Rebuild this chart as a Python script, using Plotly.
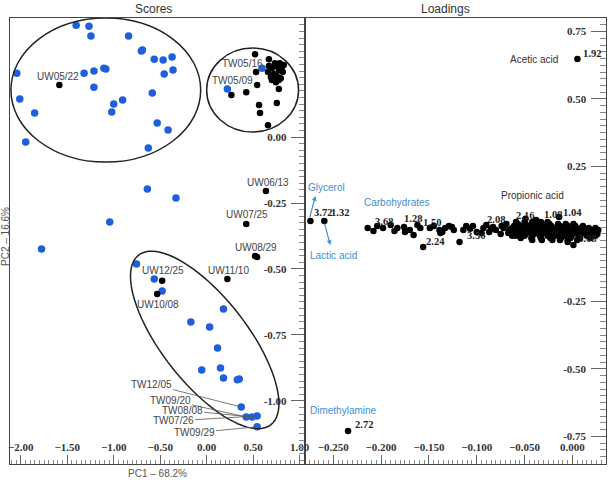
import numpy as np
import plotly.graph_objects as go

# ---------------- Scores data ----------------
blue_x = [-1.404, -1.266, -1.245, -0.840, -0.702, -0.691, -0.564, -0.468, -0.372, -0.362,
          -0.457, -2.043, -1.319, -1.213, -1.106, -1.085, -1.213, -0.585, -2.011, -0.904,
          -1.000, -1.021, -1.851, -0.532, -0.415, -1.947, -0.628, 0.223, 0.596, -0.638,
          -0.330, -1.043, -1.777, -0.755, -0.564, -0.479, 0.181, -0.170, 0.032, 0.117,
          -0.053, 0.149, 0.181, 0.330, 0.351, 0.372, 0.426, 0.489, 0.543, 0.543]
blue_y = [0.424, 0.420, 0.383, 0.383, 0.326, 0.330, 0.295, 0.292, 0.303, 0.254,
          0.239, 0.242, 0.242, 0.250, 0.261, 0.258, 0.189, 0.167, 0.144, 0.140,
          0.125, 0.095, 0.091, 0.053, 0.027, -0.019, -0.042, 0.182, 0.261, -0.197,
          -0.231, -0.322, -0.424, -0.481, -0.538, -0.583, -0.652, -0.701, -0.720, -0.799,
          -0.883, -0.875, -0.913, -0.920, -0.917, -1.023, -1.061, -1.061, -1.057, -1.098]

black_x = [-1.585, 0.521, 0.670, 0.702, 0.745, 0.777, 0.809, 0.819, 0.691, 0.723,
           0.755, 0.798, 0.702, 0.745, 0.777, 0.660, 0.734, 0.787, 0.830, 0.670,
           0.532, 0.543, 0.426, 0.266, 0.777, 0.564, 0.755, 0.574, 0.660, 0.638,
           0.426, 0.521, 0.543, 0.223, -0.479, -0.532]
black_y = [0.197, 0.314, 0.295, 0.261, 0.269, 0.254, 0.265, 0.246, 0.227, 0.239,
           0.231, 0.223, 0.216, 0.208, 0.216, 0.246, 0.280, 0.280, 0.273, 0.269,
           0.246, 0.197, 0.170, 0.159, 0.182, 0.121, 0.129, 0.091, 0.045, -0.205,
           -0.330, -0.451, -0.455, -0.538, -0.545, -0.595]

score_labels = ["UW05/22", "TW05/16", "TW05/09", "UW06/13", "UW07/25", "UW08/29",
                "UW12/25", "UW11/10", "UW10/08"]
score_label_x = [-1.596, 0.383, 0.277, 0.660, 0.436, 0.532, -0.468, 0.234, -0.521]
score_label_y = [0.231, 0.280, 0.216, -0.174, -0.295, -0.417, -0.504, -0.504, -0.633]

lead_labels = ["TW12/05", "TW09/20", "TW08/08", "TW07/26", "TW09/29"]
lead_x = [0.372, 0.426, 0.489, 0.543, 0.543]
lead_y = [-1.023, -1.061, -1.061, -1.057, -1.098]
lead_dx = [-90, -76, -70, -84, -63]
lead_dy = [-23, -17, -7, 5, 6]

# ---------------- Loadings data ----------------
load_x = [0.0052, -0.2345, -0.2738, -0.2593, -0.014, -0.038, -0.049,
          -0.214, -0.208, -0.198, -0.190, -0.183, -0.176, -0.175, -0.166, -0.159, -0.156,
          -0.149, -0.139, -0.138, -0.133, -0.129, -0.124, -0.118, -0.114, -0.107, -0.104,
          -0.100, -0.093, -0.090, -0.087, -0.083, -0.080, -0.075, -0.072, -0.069, -0.066,
          -0.063,
          -0.204, -0.186, -0.170, -0.162, -0.145,
          -0.136, -0.126, -0.111, -0.095, -0.085, -0.074, -0.067,
          -0.059, -0.050, -0.042, -0.033, -0.026,
          -0.057, -0.049, -0.040, -0.032, -0.024, -0.015, -0.007, 0.001,
          -0.061, -0.054, -0.046, -0.038, -0.030, -0.022, -0.013, -0.005, 0.003, 0.011,
          -0.063, -0.056, -0.049, -0.041, -0.034, -0.027, -0.020, -0.012, -0.005, 0.002,
          0.009, 0.017, 0.024,
          -0.059, -0.052, -0.044, -0.037, -0.030, -0.023, -0.015, -0.008, -0.001, 0.006,
          0.013, 0.021, 0.027,
          -0.061, -0.054, -0.046, -0.039, -0.032, -0.025, -0.018, -0.010, -0.003, 0.004,
          0.011, 0.019, 0.026,
          -0.057, -0.049, -0.040, -0.032, -0.024, -0.015, -0.007, 0.001, 0.009, 0.018, 0.026,
          -0.059, -0.050, -0.042, -0.034, -0.026, -0.018, -0.009, -0.001, 0.007, 0.015, 0.024,
          -0.054, -0.043, -0.033, -0.023, -0.012, -0.002, 0.008, 0.019,
          -0.042, -0.032, -0.021, -0.013, -0.005,
          -0.005, 0.001, 0.005]
load_y = [0.648, -0.730, 0.048, 0.048, 0.063, 0.052, 0.056,
          0.022, 0.011, 0.022, 0.033, 0.022, 0.026, 0.007, -0.004, 0.022, -0.048,
          0.022, 0.015, 0.004, 0.022, 0.030, 0.015, -0.030, 0.015, 0.019, 0.030,
          0.007, 0.022, 0.033, 0.007, 0.026, 0.015, 0.000, 0.022, 0.037, 0.015,
          -0.007,
          0.030, 0.011, 0.015, 0.033, 0.030,
          0.007, 0.026, 0.030, 0.004, 0.019, 0.030, 0.004,
          0.044, 0.044, 0.044, 0.044, 0.044,
          0.037, 0.037, 0.037, 0.037, 0.037, 0.037, 0.037, 0.037,
          0.030, 0.030, 0.030, 0.030, 0.030, 0.030, 0.030, 0.030, 0.030, 0.030,
          0.022, 0.022, 0.022, 0.022, 0.022, 0.022, 0.022, 0.022, 0.022, 0.022,
          0.022, 0.022, 0.022,
          0.015, 0.015, 0.015, 0.015, 0.015, 0.015, 0.015, 0.015, 0.015, 0.015,
          0.015, 0.015, 0.015,
          0.007, 0.007, 0.007, 0.007, 0.007, 0.007, 0.007, 0.007, 0.007, 0.007,
          0.007, 0.007, 0.007,
          0.000, 0.000, 0.000, 0.000, 0.000, 0.000, 0.000, 0.000, 0.000, 0.000, 0.000,
          -0.007, -0.007, -0.007, -0.007, -0.007, -0.007, -0.007, -0.007, -0.007, -0.007, -0.007,
          -0.015, -0.015, -0.015, -0.015, -0.015, -0.015, -0.015, -0.015,
          -0.022, -0.022, -0.022, -0.022, -0.022,
          -0.030, -0.041, -0.022]

num_labels = ["1.92", "2.72", "3.72", "1.32", "2.16", "1.08", "1.04", "2.24", "3.56",
              "3.68", "1.28", "1.50", "2.08", "3.08"]
num_x = [0.0207, -0.218, -0.2608, -0.2428, -0.0496, -0.0207, 0.0, -0.1426, -0.101,
         -0.197, -0.167, -0.147, -0.0795, 0.0155]
num_y = [0.670, -0.707, 0.078, 0.078, 0.070, 0.074, 0.081, -0.026, -0.007,
         0.048, 0.059, 0.044, 0.052, -0.015]

name_labels = ["Acetic acid", "Propionic acid"]
name_x = [-0.0403, -0.0413]
name_y = [0.648, 0.141]

blue_labels = ["Glycerol", "Lactic acid", "Carbohydrates", "Dimethylamine"]
blue_lab_x = [-0.2572, -0.250, -0.1829, -0.2397]
blue_lab_y = [0.174, -0.081, 0.115, -0.652]

# ---------------- Geometry ----------------
W, H = 614, 480
L_PX = (8, 306)
R_PX = (306, 611)
TOP, BOT = 18, 464
s_xr = [-2.117, 1.053]
s_yr = [-1.239, 0.451]
l_xr = [-0.280, 0.0351]
l_yr = [-0.852, 0.800]
sx = (L_PX[1] - L_PX[0]) / (s_xr[1] - s_xr[0])
sy = (BOT - TOP) / (s_yr[1] - s_yr[0])

BLUE = "#1f5fdc"
LBLUE = "#3f8fd2"
TXT = "#444444"
SERIF = "Liberation Serif"
SANS = "Liberation Sans"

fig = go.Figure()
fig.add_trace(go.Scatter(x=blue_x, y=blue_y, mode="markers", xaxis="x", yaxis="y",
                         marker=dict(color=BLUE, size=7.5), showlegend=False))
fig.add_trace(go.Scatter(x=black_x, y=black_y, mode="markers", xaxis="x", yaxis="y",
                         marker=dict(color="black", size=6.5), showlegend=False))
fig.add_trace(go.Scatter(x=load_x, y=load_y, mode="markers", xaxis="x2", yaxis="y2",
                         marker=dict(color="black", size=6.5), showlegend=False))


def ellipse_path(cx, cy, a, b, ang):
    t = np.linspace(0, 2 * np.pi, 90)
    ca, sa = np.cos(np.radians(ang)), np.sin(np.radians(ang))
    dxp = a * np.cos(t) * ca - b * np.sin(t) * sa
    dyp = a * np.cos(t) * sa + b * np.sin(t) * ca
    xs = cx + dxp / sx
    ys = cy - dyp / sy
    return "M " + " L ".join(f"{x:.4f},{y:.4f}" for x, y in zip(xs, ys)) + " Z"


shapes = [
    dict(type="circle", xref="x", yref="y", x0=-2.106, x1=-0.064, y0=-0.095, y1=0.451,
         line=dict(color="#222", width=1.5)),
    dict(type="circle", xref="x", yref="y", x0=0.0, x1=0.989, y0=0.019, y1=0.337,
         line=dict(color="#222", width=1.5)),
    dict(type="path", xref="x", yref="y", path=ellipse_path(-0.021, -0.769, 108, 43, 51.6),
         line=dict(color="#222", width=1.5)),
]

ann = []
for t, x, y in zip(score_labels, score_label_x, score_label_y):
    ann.append(dict(x=x, y=y, xref="x", yref="y", text=t, showarrow=False,
                    font=dict(family=SANS, size=10, color=TXT)))
for t, x, y, dx, dy in zip(lead_labels, lead_x, lead_y, lead_dx, lead_dy):
    ann.append(dict(x=x, y=y, xref="x", yref="y", text=t, showarrow=True, arrowhead=0,
                    arrowwidth=0.8, arrowcolor="#555", ax=dx, ay=dy, standoff=2,
                    font=dict(family=SANS, size=10, color=TXT)))
for t, x, y in zip(num_labels, num_x, num_y):
    ann.append(dict(x=x, y=y, xref="x2", yref="y2", text=t, showarrow=False,
                    font=dict(family=SERIF, size=10.5, color="#222", weight="bold")))
for t, x, y in zip(name_labels, name_x, name_y):
    ann.append(dict(x=x, y=y, xref="x2", yref="y2", text=t, showarrow=False,
                    font=dict(family=SANS, size=10, color="#333")))
for t, x, y in zip(blue_labels, blue_lab_x, blue_lab_y):
    ann.append(dict(x=x, y=y, xref="x2", yref="y2", text=t, showarrow=False,
                    font=dict(family=SANS, size=10, color=LBLUE)))
# arrows for Glycerol / Lactic acid
ann.append(dict(x=-0.2686, y=0.141, xref="x2", yref="y2", text="", showarrow=True,
                arrowhead=2, arrowsize=0.8, arrowwidth=1.2, arrowcolor=LBLUE, ax=-6, ay=23))
ann.append(dict(x=-0.2531, y=-0.041, xref="x2", yref="y2", text="", showarrow=True,
                arrowhead=2, arrowsize=0.8, arrowwidth=1.2, arrowcolor=LBLUE, ax=-6, ay=-23))
# titles
ann.append(dict(x=153 / W, y=1 - 9 / H, xref="paper", yref="paper", text="Scores",
                xanchor="center", yanchor="middle",
                showarrow=False, font=dict(family=SANS, size=12, color="#333")))
ann.append(dict(x=449 / W, y=1 - 9 / H, xref="paper", yref="paper", text="Loadings",
                xanchor="center", yanchor="middle",
                showarrow=False, font=dict(family=SANS, size=12, color="#333")))
ann.append(dict(x=157 / W, y=1 - 473 / H, xref="paper", yref="paper", text="PC1 – 68.2%",
                xanchor="center", yanchor="middle",
                showarrow=False, font=dict(family=SANS, size=10, color="#555")))
ann.append(dict(x=3 / W, y=1 - 236 / H, xref="paper", yref="paper", text="PC2 – 16.6%",
                xanchor="center", yanchor="middle",
                showarrow=False, textangle=-90, font=dict(family=SANS, size=10, color="#555")))

tickfont = dict(family=SERIF, size=11, color="#333", weight="bold")
axis_common = dict(showgrid=False, zeroline=False, showline=True, linecolor="#444",
                   linewidth=1.2, mirror=True, ticks="inside", tickcolor="#666",
                   ticklabelposition="inside", ticklabeloverflow="allow", tickfont=tickfont)

fig.update_layout(
    width=W, height=H, margin=dict(l=0, r=0, t=0, b=0),
    paper_bgcolor="white", plot_bgcolor="white", showlegend=False,
    xaxis=dict(domain=[L_PX[0] / W, L_PX[1] / W], range=s_xr, anchor="y",
               tickmode="linear", tick0=0, dtick=0.5, tickformat=".2f", ticklen=9,
               ticklabelstandoff=1,
               minor=dict(ticks="inside", ticklen=4, dtick=0.05, tick0=0, tickcolor="#888"),
               **axis_common),
    yaxis=dict(domain=[1 - BOT / H, 1 - TOP / H], range=s_yr, anchor="x", side="right",
               tickmode="array", tickvals=[-1.0, -0.75, -0.5, -0.25, 0.0],
               ticktext=["-1.00", "-0.75", "-0.50", "-0.25", "0.00"], ticklen=13,
               ticklabelstandoff=4,
               minor=dict(ticks="inside", ticklen=5, dtick=0.025, tick0=0, tickcolor="#888"),
               **axis_common),
    xaxis2=dict(domain=[R_PX[0] / W, R_PX[1] / W], range=l_xr, anchor="y2",
                tickmode="linear", tick0=0, dtick=0.05, tickformat=".3f", ticklen=9,
                ticklabelstandoff=1,
                minor=dict(ticks="inside", ticklen=4, dtick=0.005, tick0=0, tickcolor="#888"),
                **axis_common),
    yaxis2=dict(domain=[1 - BOT / H, 1 - TOP / H], range=l_yr, anchor="x2", side="right",
                tickmode="array", tickvals=[-0.75, -0.5, -0.25, 0.25, 0.5, 0.75],
                ticktext=["-0.75", "-0.50", "-0.25", "0.25", "0.50", "0.75"], ticklen=15,
                ticklabelstandoff=4,
                minor=dict(ticks="inside", ticklen=6, dtick=0.025, tick0=0, tickcolor="#888"),
                **axis_common),
    shapes=shapes, annotations=ann,
)

fig.write_html("out.html")
